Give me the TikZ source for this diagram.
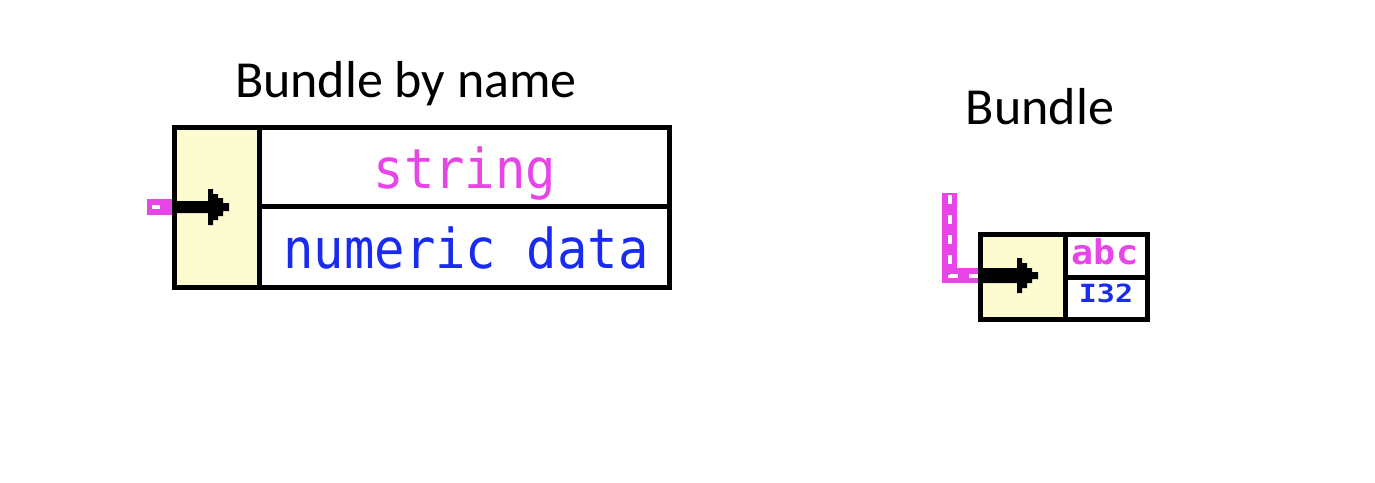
\documentclass[tikz,border=0pt]{standalone}
\usepackage{fontspec}
\setmainfont{Carlito}
\newfontfamily\pixfont{DejaVu Sans Mono}
\newfontfamily\pixfontb{DejaVu Sans Mono Bold}
\definecolor{wirepink}{HTML}{E845E8}
\definecolor{numblue}{HTML}{1A2BF0}
\definecolor{cream}{HTML}{FDFBD0}
\begin{document}
\begin{tikzpicture}[x=1pt,y=-1pt,
  frame/.style={draw=black,line width=5pt},
  cell/.style={draw=black,line width=5pt},
  wire/.style={draw=wirepink,line width=15pt},
  wiredash/.style={draw=white,line width=4pt,dash pattern=on 9pt off 11pt},
  title/.style={font=\fontsize{52}{60}\selectfont,anchor=base,inner sep=0pt},
  label/.style={anchor=base,inner sep=0pt}]
\useasboundingbox (0,0) rectangle (1375,482);

% ---- Bundle by name ----
\node[title] (t1) at (406,97) {Bundle by name};
\fill[cream] (174.5,127.5) rectangle (259,287.5);
\draw[cell] (259,206) -- (669.5,206);
\draw[cell] (259,127.5) -- (259,287.5);
\draw[frame] (174.5,127.5) rectangle (669.5,287.5);
\node[label,text=wirepink,font=\pixfont\fontsize{55}{60}\selectfont] (s1) at (465,188) {\scalebox{0.92}[1]{string}};
\node[label,text=numblue,font=\pixfont\fontsize{55}{60}\selectfont] (s2) at (466,268) {\scalebox{0.92}[1]{numeric data}};
% wire stub
\coordinate (w1a) at (147,207);
\coordinate (w1b) at (172,207);
\draw[draw=wirepink,line width=16pt] (w1a) -- (w1b);
\draw[draw=white,line width=4pt] (152,207) -- (160,207);
% arrow
\fill[black] (172,201) -- (208,201) -- (208,189) -- (213,189) -- (213,194) -- (218,194) -- (218,198) -- (223,198) -- (223,203) -- (229,203) -- (229,211) -- (223,211) -- (223,216) -- (218,216) -- (218,220) -- (213,220) -- (213,225) -- (208,225) -- (208,213) -- (172,213) -- cycle;

% ---- Bundle ----
\node[title] (t2) at (1040,124) {Bundle};
\fill[cream] (980.5,234.5) rectangle (1065,319.5);
\draw[cell] (1065,277) -- (1147.5,277);
\draw[cell] (1065,234.5) -- (1065,319.5);
\draw[frame] (980.5,234.5) rectangle (1147.5,319.5);
\node[label,text=wirepink,font=\pixfontb\fontsize{34}{36}\selectfont] (s3) at (1105,264) {\scalebox{1.08}[1]{abc}};
\node[label,text=numblue,font=\pixfontb\fontsize{25}{28}\selectfont] (s4) at (1106,302) {\scalebox{1.2}[1]{I32}};
% wire
\coordinate (w2a) at (949.5,193);
\coordinate (w2c) at (949.5,275.5);
\coordinate (w2b) at (978,275.5);
\draw[wire] (w2a) -- (w2c) -- (w2b);
\draw[wiredash] (949.5,195) -- (w2c) -- (w2b);
% arrow
\fill[black] (978,268) -- (1017,268) -- (1017,258) -- (1022,258) -- (1022,263) -- (1027,263) -- (1027,268) -- (1032,268) -- (1032,272) -- (1038,272) -- (1038,279) -- (1032,279) -- (1032,283) -- (1027,283) -- (1027,288) -- (1022,288) -- (1022,293) -- (1017,293) -- (1017,283) -- (978,283) -- cycle;
\end{tikzpicture}
\end{document}
